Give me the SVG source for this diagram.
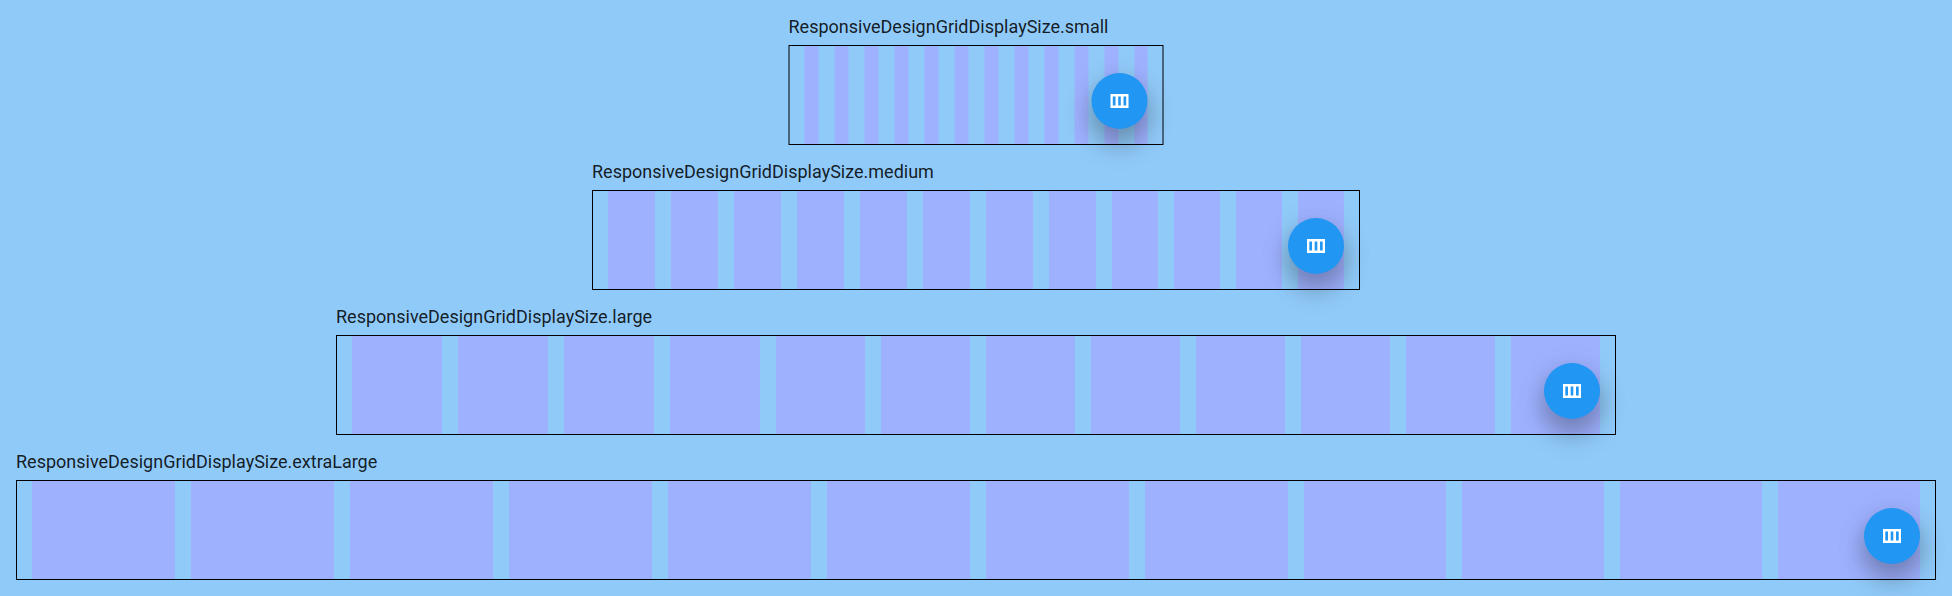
<svg xmlns="http://www.w3.org/2000/svg" width="1952" height="596" viewBox="0 0 1952 596">
<style>
.bg{fill:#90CAF9}
.col{fill:#9EB1FF}
.box{fill:none;stroke:#000;stroke-width:1}
.lbl{font-family:Roboto,"Liberation Sans",sans-serif;font-size:18px;fill:#000;fill-opacity:.87}
.fabc{fill:#2196F3}
.ico{fill:#fff;fill-rule:evenodd}
</style>
<defs>
<filter id="b2" x="-100%" y="-100%" width="300%" height="300%"><feGaussianBlur stdDeviation="12"/></filter>
<g id="fab">
<circle cx="0" cy="16" r="30" fill="#000" fill-opacity=".2" filter="url(#b2)"/>
<circle cx="0" cy="6" r="30" fill="#000" fill-opacity=".12" filter="url(#b2)"/>
<circle class="fabc" r="28"/>
<path class="ico" transform="translate(-12 -12)" d="M3 5h18v14H3zM5.3 7.4v9.2H8V7.4zM10.7 7.4v9.2h2.6V7.4zM16 7.4v9.2h2.7V7.4z"/>
</g>
</defs>
<rect class="bg" width="1952" height="596"/>
<g id="grid-small">
<text class="lbl" x="788.5" y="33">ResponsiveDesignGridDisplaySize.small</text>
<g>
<rect class="col" x="804.5" y="46" width="14" height="98"/><rect class="col" x="834.5" y="46" width="14" height="98"/><rect class="col" x="864.5" y="46" width="14" height="98"/><rect class="col" x="894.5" y="46" width="14" height="98"/><rect class="col" x="924.5" y="46" width="14" height="98"/><rect class="col" x="954.5" y="46" width="14" height="98"/><rect class="col" x="984.5" y="46" width="14" height="98"/><rect class="col" x="1014.5" y="46" width="14" height="98"/><rect class="col" x="1044.5" y="46" width="14" height="98"/><rect class="col" x="1074.5" y="46" width="14" height="98"/><rect class="col" x="1104.5" y="46" width="14" height="98"/><rect class="col" x="1134.5" y="46" width="13" height="98"/>
</g>
<rect class="box" x="789" y="45.5" width="374" height="99"/>
<use href="#fab" x="1119.5" y="101"/>
</g>
<g id="grid-medium">
<text class="lbl" x="592" y="178">ResponsiveDesignGridDisplaySize.medium</text>
<g>
<rect class="col" x="608" y="191" width="47" height="98"/><rect class="col" x="671" y="191" width="47" height="98"/><rect class="col" x="734" y="191" width="47" height="98"/><rect class="col" x="797" y="191" width="47" height="98"/><rect class="col" x="860" y="191" width="47" height="98"/><rect class="col" x="923" y="191" width="47" height="98"/><rect class="col" x="986" y="191" width="47" height="98"/><rect class="col" x="1049" y="191" width="47" height="98"/><rect class="col" x="1112" y="191" width="46" height="98"/><rect class="col" x="1174" y="191" width="46" height="98"/><rect class="col" x="1236" y="191" width="46" height="98"/><rect class="col" x="1298" y="191" width="46" height="98"/>
</g>
<rect class="box" x="592.5" y="190.5" width="767" height="99"/>
<use href="#fab" x="1316" y="246"/>
</g>
<g id="grid-large">
<text class="lbl" x="336" y="323">ResponsiveDesignGridDisplaySize.large</text>
<g>
<rect class="col" x="352" y="336" width="90" height="98"/><rect class="col" x="458" y="336" width="90" height="98"/><rect class="col" x="564" y="336" width="90" height="98"/><rect class="col" x="670" y="336" width="90" height="98"/><rect class="col" x="776" y="336" width="89" height="98"/><rect class="col" x="881" y="336" width="89" height="98"/><rect class="col" x="986" y="336" width="89" height="98"/><rect class="col" x="1091" y="336" width="89" height="98"/><rect class="col" x="1196" y="336" width="89" height="98"/><rect class="col" x="1301" y="336" width="89" height="98"/><rect class="col" x="1406" y="336" width="89" height="98"/><rect class="col" x="1511" y="336" width="89" height="98"/>
</g>
<rect class="box" x="336.5" y="335.5" width="1279" height="99"/>
<use href="#fab" x="1572" y="391"/>
</g>
<g id="grid-extraLarge">
<text class="lbl" x="16" y="468">ResponsiveDesignGridDisplaySize.extraLarge</text>
<g>
<rect class="col" x="32" y="481" width="143" height="98"/><rect class="col" x="191" y="481" width="143" height="98"/><rect class="col" x="350" y="481" width="143" height="98"/><rect class="col" x="509" y="481" width="143" height="98"/><rect class="col" x="668" y="481" width="143" height="98"/><rect class="col" x="827" y="481" width="143" height="98"/><rect class="col" x="986" y="481" width="143" height="98"/><rect class="col" x="1145" y="481" width="143" height="98"/><rect class="col" x="1304" y="481" width="142" height="98"/><rect class="col" x="1462" y="481" width="142" height="98"/><rect class="col" x="1620" y="481" width="142" height="98"/><rect class="col" x="1778" y="481" width="142" height="98"/>
</g>
<rect class="box" x="16.5" y="480.5" width="1919" height="99"/>
<use href="#fab" x="1892" y="536"/>
</g>
</svg>
